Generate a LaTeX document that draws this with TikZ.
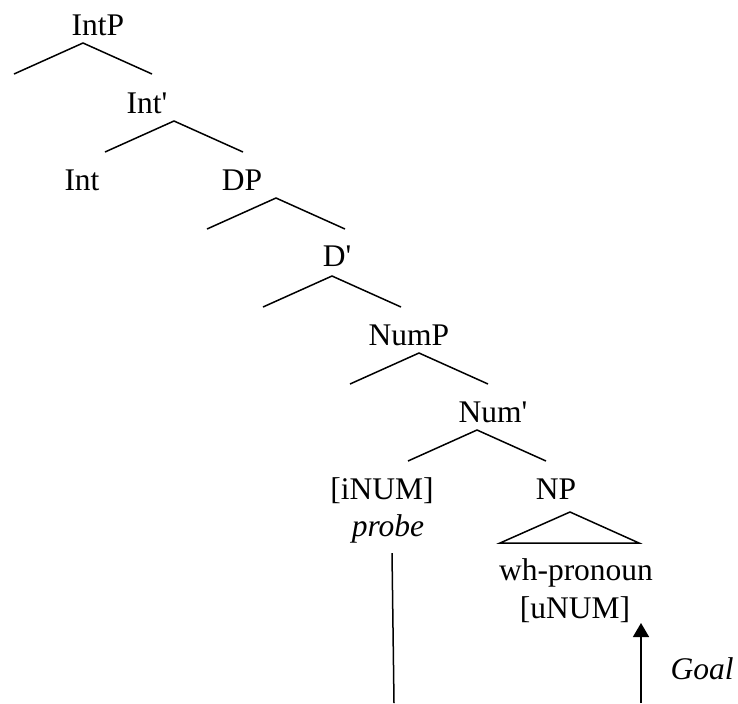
\documentclass[tikz,border=0pt]{standalone}
\usepackage{fontspec}
\setmainfont{Liberation Serif}
\usetikzlibrary{arrows.meta}

\begin{document}
\begin{tikzpicture}[x=0.5pt, y=-0.5pt, >={Triangle[length=7pt,width=8pt]},
    lbl/.style={anchor=base, inner sep=0pt, font=\fontsize{15.75}{19}\selectfont},
    br/.style={line width=0.75pt}]
    \useasboundingbox (0,0) rectangle (738,703);
    % labels
    \foreach \n/\t/\x/\y in {IntP/IntP/98/35, IntB/{Int\textquotesingle}/147/113, Int/Int/82/190, DP/DP/242/190,
        DB/{D\textquotesingle}/337/266, NumP/NumP/409/345, NumB/{Num\textquotesingle}/493/422, iNUM/{[iNUM]}/382/499,
        NP/NP/556/499, wh/wh-pronoun/576/580, uNUM/{[uNUM]}/575/618}
      \node[lbl] (\n) at (\x,\y) {\t};
    \node[lbl] (probe) at (388,536) {\textit{probe}};
    \node[lbl] (Goal) at (702,679) {\textit{Goal}};
    % branches
    \foreach \a/\x/\y in {IntP/83/43, IntB/174/121, DP/276/198, DB/332/276, NumP/419/353, NumB/477/430} {
      \coordinate (\a-top) at (\x,\y);
      \draw[br] ([shift={(-69,31)}]\a-top) -- (\a-top) -- ([shift={(69,31)}]\a-top);
    }
    % NP triangle
    \coordinate (NP-top) at (570,512);
    \draw[br] (NP-top) -- ++(-70,31) -- ++(139,0) -- cycle;
    % probe and goal
    \coordinate (probe-start) at (392,553);
    \coordinate (probe-end) at (394,703);
    \draw[br] (probe-start) -- (probe-end);
    \coordinate (goal-foot) at (641,703);
    \coordinate (goal-tip) at (641,623);
    \draw[->,br] (goal-foot) -- (goal-tip);
\end{tikzpicture}
\end{document}
